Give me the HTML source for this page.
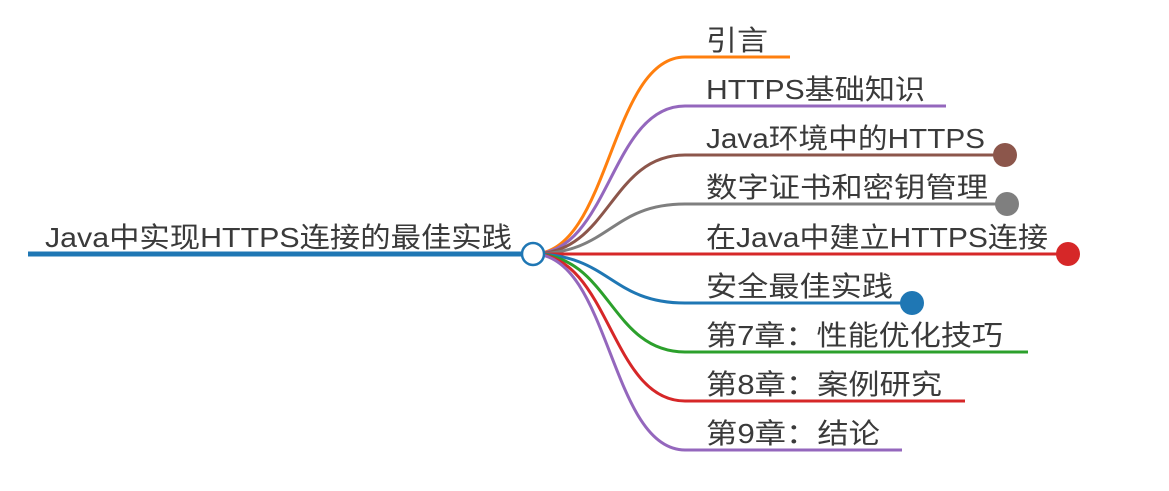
<!DOCTYPE html>
<html><head><meta charset="utf-8">
<style>
html,body{margin:0;padding:0;background:#fff;}
svg{display:block;}
text{font-family:"Liberation Sans","Noto Sans CJK SC",sans-serif;font-size:28px;fill:#3a3a3a;}
</style></head>
<body>
<svg width="1169" height="491" viewBox="0 0 1169 491" xmlns="http://www.w3.org/2000/svg">
<g fill="none" stroke-width="3">
<path d="M533,254 C610,254 610,57 685,57 L790,57" stroke="#ff7f0e"/>
<path d="M533,254 C610,254 610,106 685,106 L946,106" stroke="#9467bd"/>
<path d="M533,254 C610,254 610,155 685,155 L1005,155" stroke="#8c564b"/>
<path d="M533,254 C610,254 610,204 685,204 L1007,204" stroke="#7f7f7f"/>
<path d="M533,254 L1068,254" stroke="#d62728"/>
<path d="M533,254 C610,254 610,303 685,303 L912,303" stroke="#1f77b4"/>
<path d="M533,254 C610,254 610,352 685,352 L1028,352" stroke="#2ca02c"/>
<path d="M533,254 C610,254 610,401 685,401 L965,401" stroke="#d62728"/>
<path d="M533,254 C610,254 610,450 685,450 L902,450" stroke="#9467bd"/>
</g>
<line x1="28" y1="254" x2="522" y2="254" stroke="#1f77b4" stroke-width="5"/>
<circle cx="1005" cy="155" r="12" fill="#8c564b"/>
<circle cx="1007" cy="204" r="12" fill="#7f7f7f"/>
<circle cx="1068" cy="254" r="12" fill="#d62728"/>
<circle cx="912" cy="303" r="12" fill="#1f77b4"/>
<circle cx="533" cy="254" r="11" fill="#fff" stroke="#1f77b4" stroke-width="2.5"/>
<text x="45" y="247" textLength="467" lengthAdjust="spacingAndGlyphs">Java中实现HTTPS连接的最佳实践</text>
<text x="706" y="50" textLength="62" lengthAdjust="spacingAndGlyphs">引言</text>
<text x="706" y="99" textLength="219" lengthAdjust="spacingAndGlyphs">HTTPS基础知识</text>
<text x="706" y="148" textLength="279" lengthAdjust="spacingAndGlyphs">Java环境中的HTTPS</text>
<text x="706" y="197" textLength="282" lengthAdjust="spacingAndGlyphs">数字证书和密钥管理</text>
<text x="706" y="247" textLength="342" lengthAdjust="spacingAndGlyphs">在Java中建立HTTPS连接</text>
<text x="706" y="296" textLength="187" lengthAdjust="spacingAndGlyphs">安全最佳实践</text>
<text x="706" y="345" textLength="297" lengthAdjust="spacingAndGlyphs">第7章：性能优化技巧</text>
<text x="706" y="394" textLength="236" lengthAdjust="spacingAndGlyphs">第8章：案例研究</text>
<text x="706" y="443" textLength="174" lengthAdjust="spacingAndGlyphs">第9章：结论</text>
</svg>
</body></html>
